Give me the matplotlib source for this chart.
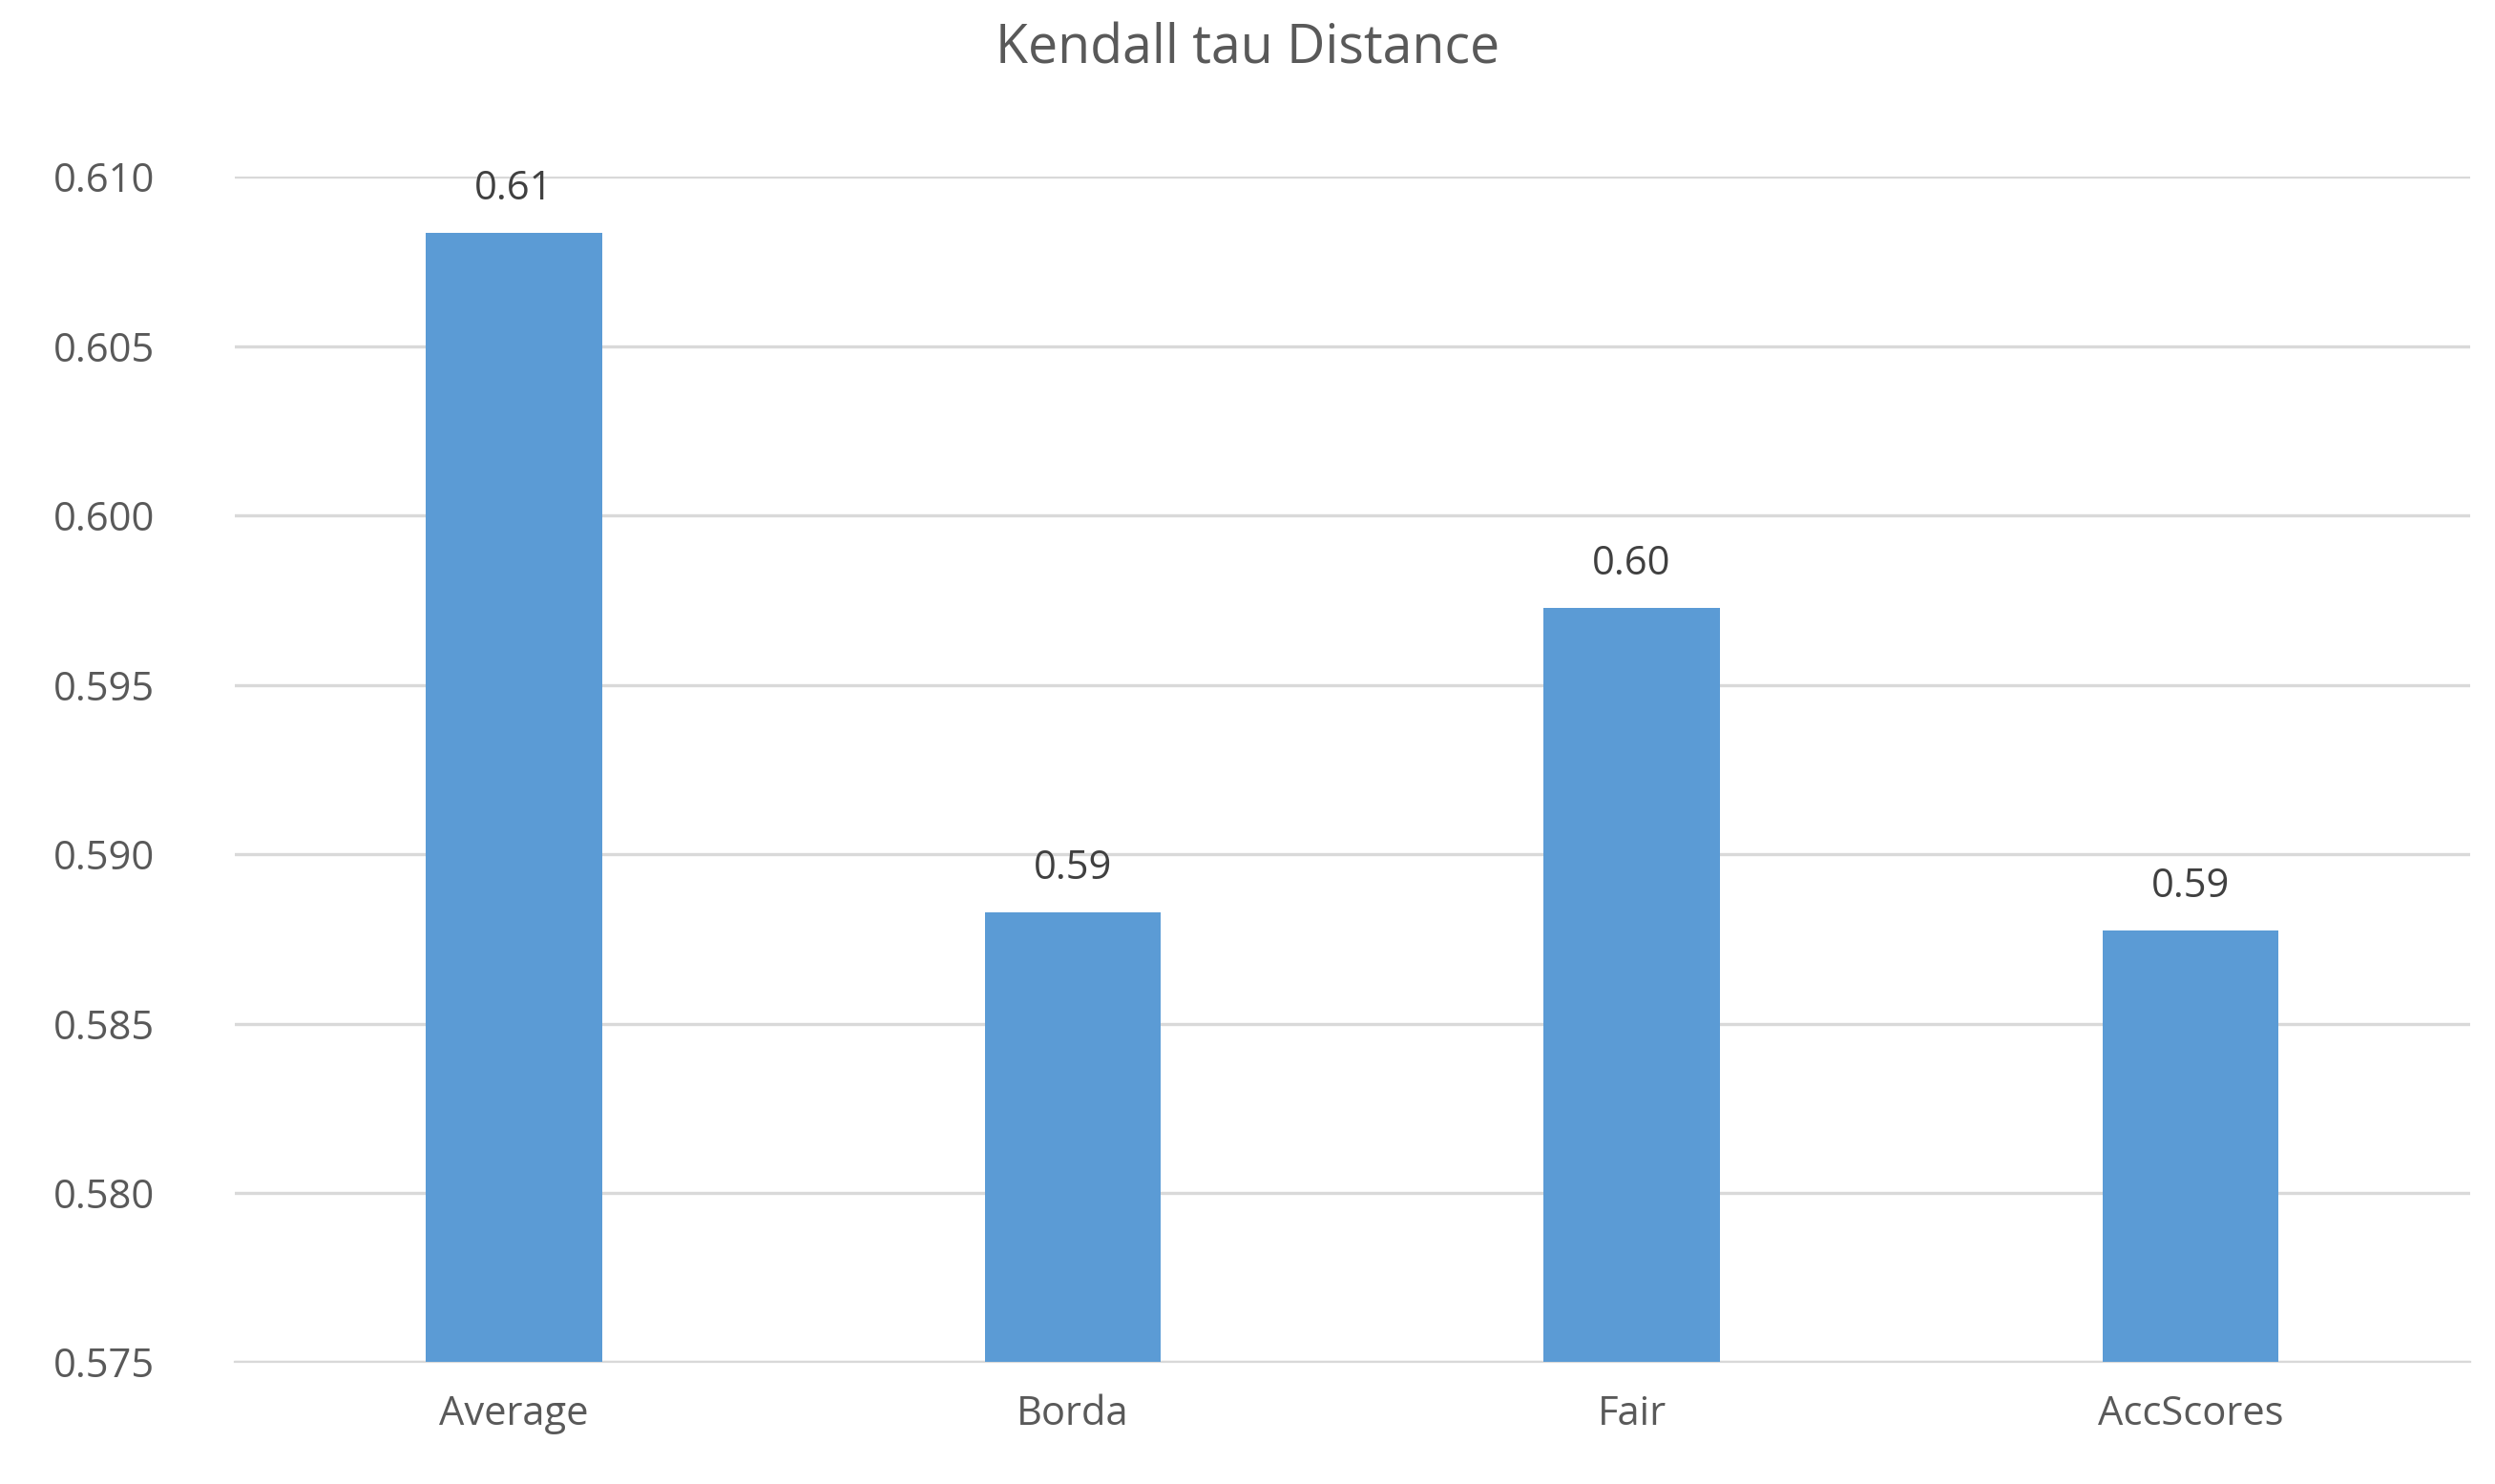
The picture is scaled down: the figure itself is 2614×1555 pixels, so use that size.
import matplotlib.pyplot as plt

categories = ['Average', 'Borda', 'Fair', 'AccScores']
values = [0.60835, 0.58828, 0.59728, 0.58776]
labels = ['0.61', '0.59', '0.60', '0.59']
yticks = [0.575, 0.580, 0.585, 0.590, 0.595, 0.600, 0.605, 0.610]

plt.rcParams['font.family'] = ['Open Sans', 'DejaVu Sans']
fig = plt.figure(figsize=(13.07, 7.775), dpi=200)
ax = fig.add_axes([0.094, 0.082, 0.896, 0.799])

bars = ax.bar(categories, values, width=0.315, color='#5B9BD5', zorder=3)
for b, lab in zip(bars, labels):
    ax.text(b.get_x() + b.get_width() / 2, b.get_height() + 0.0007, lab,
            ha='center', va='bottom', fontsize=15, color='#404040')

ax.set_ylim(0.575, 0.610)
ax.set_xlim(-0.5, 3.5)
ax.set_yticks(yticks)
ax.set_yticklabels([f'{t:.3f}' for t in yticks])
ax.grid(axis='y', color='#D9D9D9', linewidth=1.2, zorder=0)
for s in ['top', 'right', 'left']:
    ax.spines[s].set_visible(False)
ax.spines['bottom'].set_color('#D9D9D9')
ax.tick_params(axis='both', length=0, labelsize=15, labelcolor='#595959', pad=12)
ax.tick_params(axis='y', pad=30)
fig.suptitle('Kendall tau Distance', y=0.985, fontsize=20, color='#595959')

fig.savefig('out.png', dpi=200)
